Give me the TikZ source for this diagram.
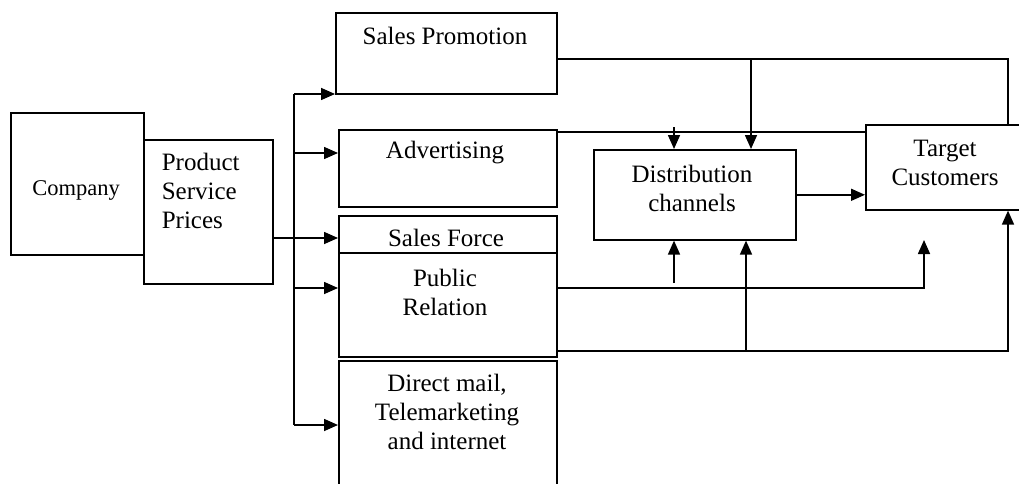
\documentclass[tikz,border=0pt]{standalone}
\usepackage{fontspec}
\setmainfont{Liberation Serif}
\usetikzlibrary{arrows.meta}
\tikzset{
  box/.style={draw, line width=1.6pt, inner sep=0pt, anchor=north west},
  txt/.style={align=center, inner sep=0pt, font=\fontsize{25}{29}\selectfont},
  arr/.style={-{Triangle[length=14pt,width=12pt]}},
}
\begin{document}
\begin{tikzpicture}[x=1pt, y=-1pt, line width=1.6pt]
      \useasboundingbox (0,0) rectangle (1019,484);
      \clip (0,0) rectangle (1019,484);
      % boxes
      \node[box, minimum width=133pt, minimum height=142pt] (co) at (10,112) {};
      \node[box, minimum width=129pt, minimum height=144pt] (ps) at (143,139) {};
      \node[box, minimum width=221pt, minimum height=81pt] (sp) at (335,12) {};
      \node[box, minimum width=218pt, minimum height=77pt] (ad) at (338,129) {};
      \node[box, minimum width=218pt, minimum height=37pt] (sf) at (338,215) {};
      \node[box, minimum width=218pt, minimum height=104pt] (pr) at (338,252) {};
      \node[box, minimum width=218pt, minimum height=150pt] (dm) at (338,360) {};
      \node[box, minimum width=202pt, minimum height=90pt] (dc) at (593,149) {};
      \node[box, minimum width=170pt, minimum height=85pt] (tc) at (865,124) {};
      % texts
      \node[txt, font=\fontsize{22.5}{26}\selectfont] (co-t) at (76,190) {Company};
      \node[txt, align=left, anchor=west] (ps-t) at (161,191) {Product\\Service\\Prices};
      \node[txt] (sp-t) at (445,36) {Sales Promotion};
      \node[txt] (ad-t) at (445,153) {Advertising};
      \node[txt] (sf-t) at (446,238) {Sales Force};
      \node[txt] (pr-t) at (445,292) {Public\\Relation};
      \node[txt] (dm-t) at (447,412) {Direct mail,\\Telemarketing\\and internet};
      \node[txt] (dc-t) at (692,188) {Distribution\\channels};
      \node[txt] (tc-t) at (945,163) {Target\\Customers};
      % junctions
      \coordinate (bt) at (294,94);
      \coordinate (b1) at (294,153);
      \coordinate (b3) at (294,288);
      \coordinate (bb) at (294,425);
      \coordinate (top) at (1008,59);
      \coordinate (j1) at (751,59);
      \coordinate (j2) at (674,132);
      \coordinate (j3) at (674,288);
      \coordinate (k3) at (924,288);
      \coordinate (k3a) at (924,240);
      \coordinate (j4) at (746,351);
      % lines
      \draw (bt) -- (bb);
      \draw (sp.east |- top) -- (top) -- (top |- tc.north);
      \draw (ad.east |- j2) -- (j2 -| tc.west);
      \begin{scope}[arr]
        \draw (bt) -- (bt -| sp.west);
        \draw (b1) -- (b1 -| ad.west);
        \draw (ps.east |- sf-t) -- (sf-t -| sf.west);
        \draw (b3) -- (b3 -| pr.west);
        \draw (bb) -- (bb -| dm.west);
        \draw (j1) -- (j1 |- dc.north);
        \draw ([yshift=5pt]j2) -- (j2 |- dc.north);
        \draw (dc.east) -- (dc.east -| tc.west);
        \draw (pr.east |- j3) -- (k3) -- (k3a);
        \draw ([yshift=5pt]j3) -- (j3 |- dc.south);
        \draw (pr.east |- j4) -- (j4 -| top) -- (top |- tc.south);
        \draw (j4) -- (j4 |- dc.south);
      \end{scope}
    \end{tikzpicture}
\end{document}
